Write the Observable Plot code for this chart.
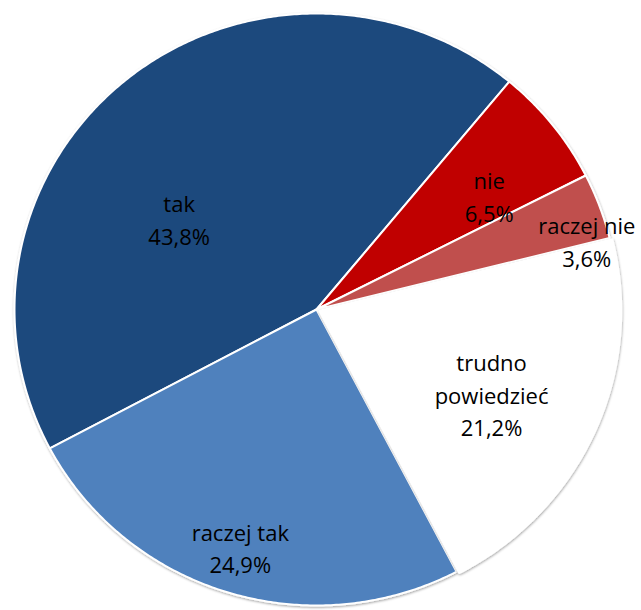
<!DOCTYPE html>
<html>
<head>
<meta charset="utf-8">
<script src="https://cdn.jsdelivr.net/npm/d3@7"></script>
<script src="https://cdn.jsdelivr.net/npm/@observablehq/plot@0.6"></script>
<style>
  body { margin: 0; background: #ffffff; }
  #chart svg { display: block; background: #ffffff; }
</style>
</head>
<body>
<div id="chart"></div>
<script>
// Survey answers and their shares (%)
const categories = ["tak", "nie", "raczej nie", "trudno powiedzieć", "raczej tak"];
const shares = [43.8, 6.5, 3.6, 21.2, 24.9];
const labelNames = ["tak", "nie", "raczej nie", "trudno\npowiedzieć", "raczej tak"];
const sliceColors = ["#1F497D", "#C00000", "#C0504D", "#FFFFFF", "#4F81BD"];

// Layout of the pie (pixels / degrees)
const W = 641, H = 610;
const cx = 316, cy = 309, rx = 302, ry = 296;
const firstSliceAngle = 242;            // clockwise from 12 o'clock
const explodeBy = [0, 0, 0, 3, 0];
const labelRadius = [0.55, 0.69, 0.925, 0.645, 0.84];
const labelTurn = [-16.6, 4.6, 5.8, 1.8, 0.3];

const rad = (d) => (d * Math.PI) / 180;
const total = d3.sum(shares);
let acc = firstSliceAngle;
const slices = categories.map((name, i) => {
  const a0 = acc;
  const a1 = acc + (shares[i] / total) * 360;
  acc = a1;
  return {name, i, a0, a1, mid: (a0 + a1) / 2};
});

// Polygon outline of a slice: centre, then points along the arc
function outline(s) {
  const ox = explodeBy[s.i] * Math.sin(rad(s.mid));
  const oy = explodeBy[s.i] * Math.cos(rad(s.mid));
  const n = Math.max(2, Math.ceil((s.a1 - s.a0) / 0.5));
  const pts = [{x: ox, y: oy}];
  for (let k = 0; k <= n; ++k) {
    const a = rad(s.a0 + ((s.a1 - s.a0) * k) / n);
    pts.push({x: ox + rx * Math.sin(a), y: oy + ry * Math.cos(a)});
  }
  return pts.map((p) => ({...p, key: s.name, color: sliceColors[s.i]}));
}

const exploded = slices.filter((s) => explodeBy[s.i] > 0);
const flat = slices.filter((s) => explodeBy[s.i] === 0);
const flatPts = flat.flatMap(outline);
const explodedPts = exploded.flatMap(outline);

const fmt = (v) => v.toFixed(1).replace(".", ",") + "%";
const labels = slices.map((s) => {
  const a = rad(s.mid + labelTurn[s.i]);
  const r = labelRadius[s.i];
  return {
    x: rx * r * Math.sin(a),
    y: ry * r * Math.cos(a),
    text: labelNames[s.i] + "\n" + fmt(shares[s.i])
  };
});

const sliceStyle = {x: "x", y: "y", z: "key", fill: "color", stroke: "#ffffff", strokeWidth: 2, curve: "linear-closed"};

const chart = Plot.plot({
  width: W,
  height: H,
  margin: 0,
  x: {domain: [-cx, W - cx], range: [0, W], axis: null},
  y: {domain: [-(H - cy), cy], range: [H, 0], axis: null},
  color: {type: "identity"},
  marks: [
    Plot.line(flatPts, sliceStyle),
    Plot.line(explodedPts, sliceStyle),
    Plot.text(labels, {
      x: "x",
      y: "y",
      text: "text",
      fontSize: 22,
      fontFamily: "Open Sans",
      fill: "#000000",
      lineHeight: 1.48
    })
  ]
});

// soft outer shadow for the slices
const ns = "http://www.w3.org/2000/svg";
const defs = document.createElementNS(ns, "defs");
defs.innerHTML =
  '<filter id="sliceShadow" x="-10%" y="-10%" width="120%" height="120%">' +
  '<feDropShadow dx="0.5" dy="1.2" stdDeviation="1.3" flood-color="#000000" flood-opacity="0.35"/>' +
  "</filter>";
chart.prepend(defs);
chart.querySelectorAll('g[aria-label="line"]').forEach((g) => g.setAttribute("filter", "url(#sliceShadow)"));

document.getElementById("chart").append(chart);
</script>
</body>
</html>
